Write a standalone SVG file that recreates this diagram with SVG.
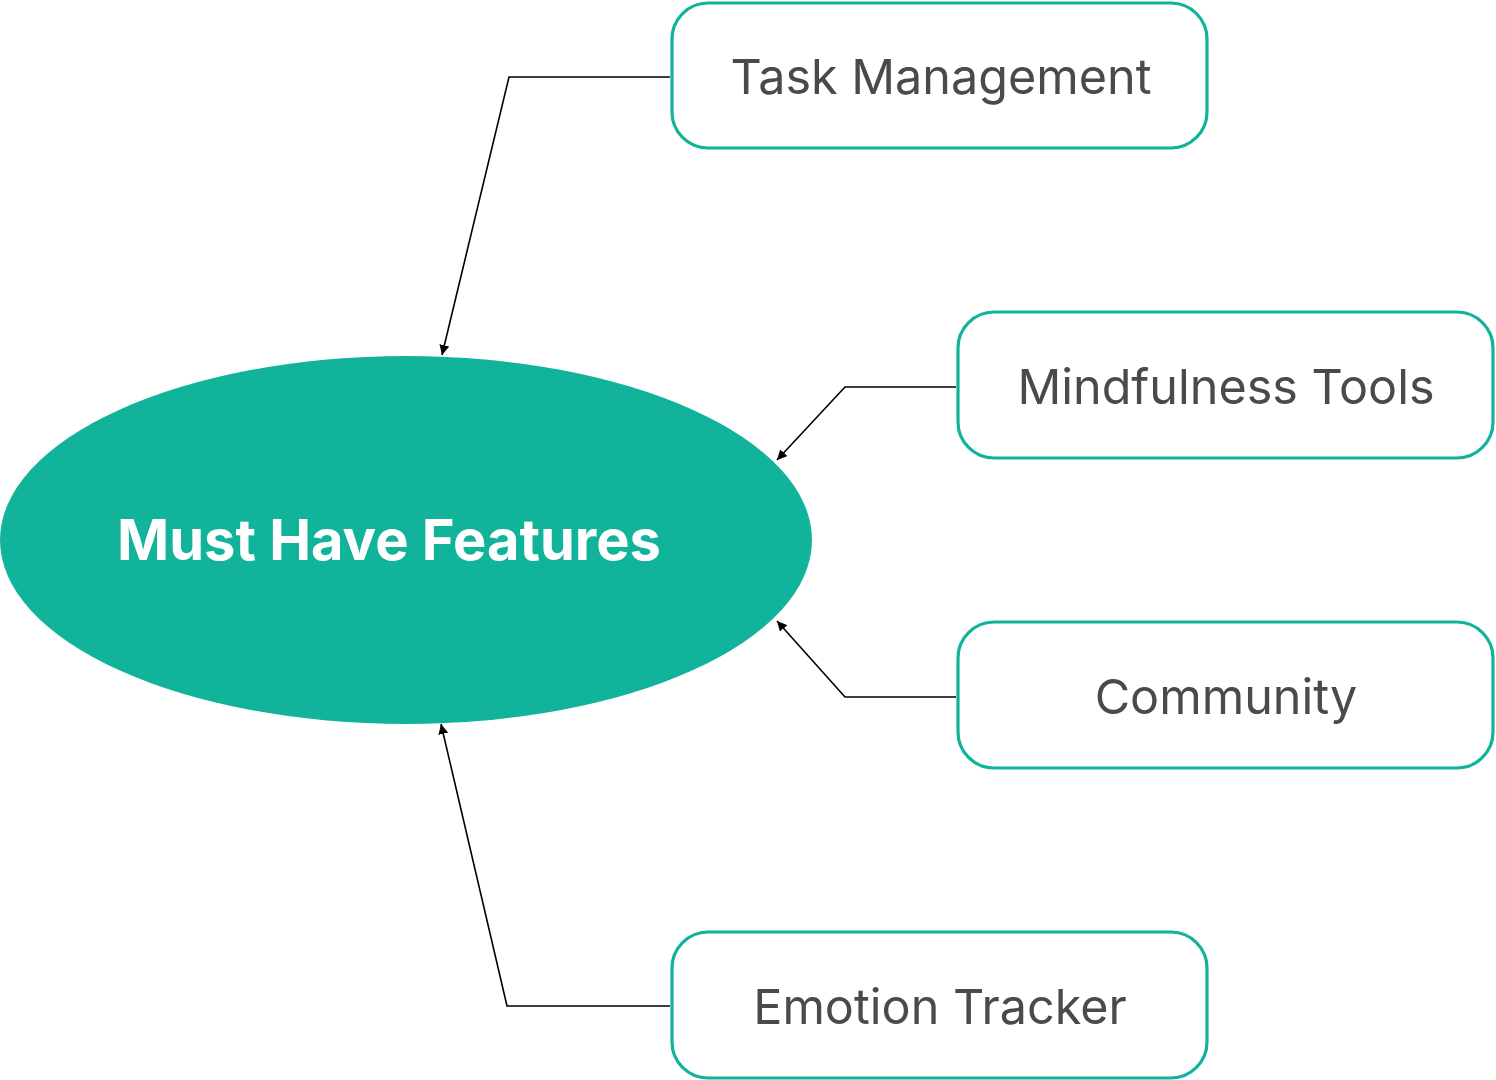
<svg xmlns="http://www.w3.org/2000/svg" width="1496" height="1080" viewBox="0 0 1496 1080">
<defs>
<style>
.box{fill:#fff;stroke:#12b39b;stroke-width:3.2}
.lbl{font-family:Inter,"Liberation Sans",sans-serif;font-size:48.5px;fill:#4a4a4a;text-anchor:middle;dominant-baseline:central}
.conn{fill:none;stroke:#000;stroke-width:1.6}
</style>
<marker id="arr" viewBox="0 0 10 10" refX="10" refY="5" markerWidth="10" markerHeight="10" markerUnits="userSpaceOnUse" orient="auto">
<path d="M0,0 L10,5 L0,10 z" fill="#000"/>
</marker>
</defs>
<rect width="1496" height="1080" fill="#fff"/>
<g id="center">
<ellipse cx="406" cy="540" rx="406" ry="184" fill="#12b39b"/>
<text x="389" y="540" font-family="Inter,'Liberation Sans',sans-serif" font-size="56" font-weight="700" fill="#fff" text-anchor="middle" dominant-baseline="central">Must Have Features</text>
</g>
<g id="connectors">
<polyline class="conn" points="670,77 509,77 442,355" marker-end="url(#arr)"/>
<polyline class="conn" points="956,387 845,387 777,460" marker-end="url(#arr)"/>
<polyline class="conn" points="956,697 845,697 777,621" marker-end="url(#arr)"/>
<polyline class="conn" points="670,1006 507,1006 441,724" marker-end="url(#arr)"/>
</g>
<g id="task">
<rect class="box" x="672" y="3" width="535" height="145" rx="36"/>
<text class="lbl" x="941" y="76">Task Management</text>
</g>
<g id="mindfulness">
<rect class="box" x="958" y="312" width="535" height="146" rx="36"/>
<text class="lbl" x="1226" y="386">Mindfulness Tools</text>
</g>
<g id="community">
<rect class="box" x="958" y="622" width="535" height="146" rx="36"/>
<text class="lbl" x="1226" y="696">Community</text>
</g>
<g id="emotion">
<rect class="box" x="672" y="932" width="535" height="146" rx="36"/>
<text class="lbl" x="940" y="1006">Emotion Tracker</text>
</g>
</svg>
